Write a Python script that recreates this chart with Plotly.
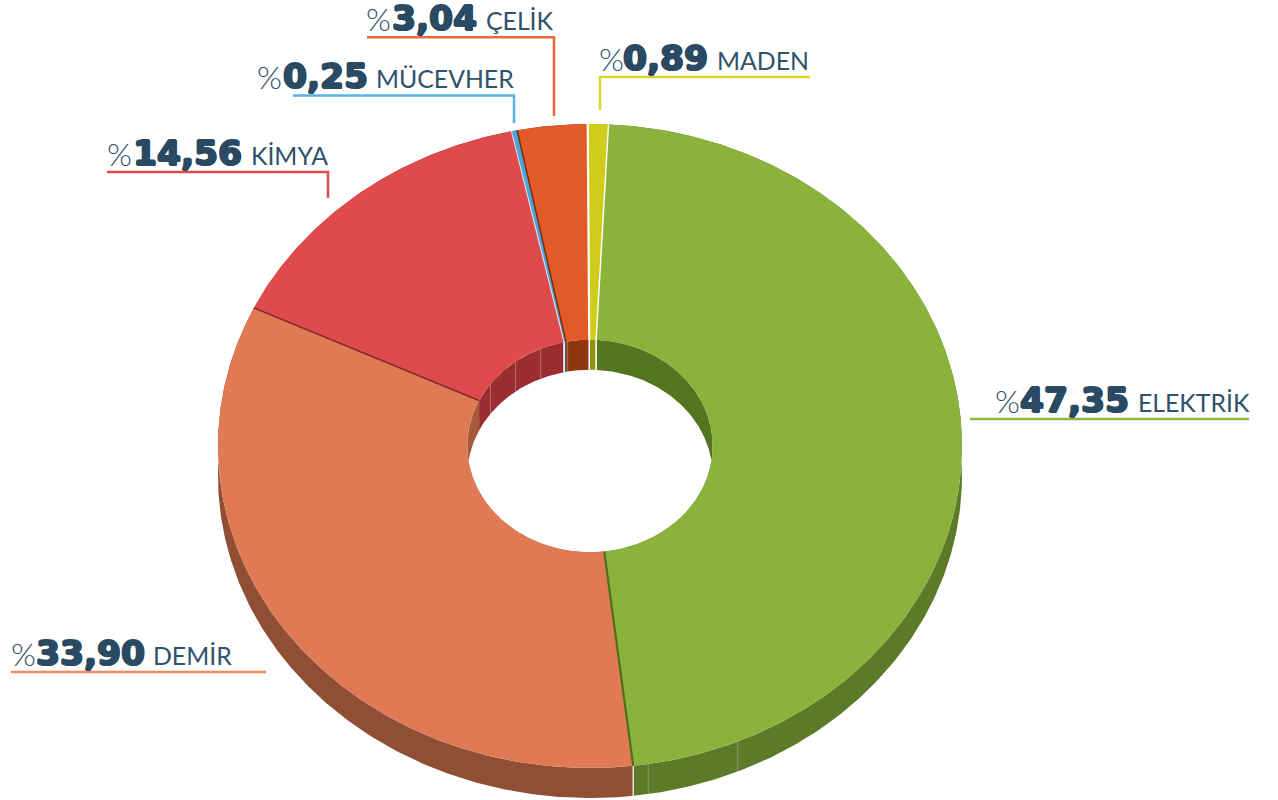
import numpy as np
import plotly.graph_objects as go

# data
names = ["MADEN", "ELEKTRİK", "DEMİR", "KİMYA", "MÜCEVHER", "ÇELİK"]
values = [0.89, 47.35, 33.90, 14.56, 0.25, 3.04]

# styles
top_colors = ["#CFCC1C", "#8BB33B", "#E07A54", "#DF4A4C", "#4CA3D8", "#E15A28"]
outer_wall_colors = ["#8F8F10", "#5C7A28", "#904F35", "#96302F", "#2A6A92", "#8F3510"]
inner_wall_colors = ["#8F8F10", "#54751F", "#A55A3C", "#9A2D30", "#2A6A92", "#8F3510"]
leader_colors = ["#D9D62E", "#8FB93E", "#F08A60", "#E0494C", "#5AB1E4", "#F0693C"]
edge_colors = ["#FFFFFF", "#FFFFFF", "#4F6F1C", "#7E2A2A", "#FFFFFF", "#7A2E0C"]
edge_widths = [2.2, 1.4, 2.2, 1.6, 0.8, 1.5]
TEXT_NUM = "#2A4A63"
TEXT_LBL = "#30526B"

# geometry (layout, in pixels of the 1278x800 page)
W, H = 1278, 800
CX, CY, RX, RY, DEPTH = 590, 446, 372, 322, 30
HOLE = 0.33
ROTATION = -0.35
outer_facets = [156.6, 171.0]
inner_facets = [305.8, 322.7, 336.3, 349.5]

# leader: (x start, y, x corner or None, y end)
leaders = [
    (810, 77, 600, 110),
    (970, 419, 1249, None),
    (11, 672, 266, None),
    (107, 172, 328, 198),
    (293, 95.5, 514, 123),
    (367, 37.3, 554, 116),
]
# text x positions: percent sign, number, name, baseline
text_pos = [
    (598, 622, 716, 70),
    (994, 1019, 1137, 412),
    (10, 35, 152, 665),
    (106, 132, 250, 165),
    (256, 282, 375, 88),
    (365, 391, 485, 30),
]

vals = np.array(values, dtype=float)
bounds = np.concatenate([[0.0], np.cumsum(vals) / vals.sum() * 360.0]) + ROTATION
d = DEPTH / RY


def arc(a0, a1, r, dy=0.0):
    n = max(2, int(abs(a1 - a0) * 2) + 2)
    t = np.radians(np.linspace(a0, a1, n))
    return r * np.sin(t), r * np.cos(t) + dy


def band(a0, a1, r0, dy0, r1, dy1):
    x0, y0 = arc(a0, a1, r0, dy0)
    x1, y1 = arc(a1, a0, r1, dy1)
    return np.r_[x0, x1, x0[0]], np.r_[y0, y1, y0[0]]


fig = go.Figure()


def poly(x, y, color):
    fig.add_trace(go.Scatter(x=x, y=y, mode="lines", fill="toself", fillcolor=color,
                             line=dict(width=0, color=color), hoverinfo="skip", showlegend=False))


def seg(x, y, color, width):
    fig.add_trace(go.Scatter(x=x, y=y, mode="lines", line=dict(width=width, color=color),
                             hoverinfo="skip", showlegend=False))


n = len(vals)
for i in range(n):
    x, y = band(bounds[i], bounds[i + 1], 1, 0, 1, -d)
    poly(x, y, outer_wall_colors[i])
for i in range(n):
    x, y = band(bounds[i], bounds[i + 1], HOLE, 0, HOLE, -d)
    poly(x, y, inner_wall_colors[i])
# facet seams on the walls
for a in outer_facets:
    t = np.radians(a)
    seg([np.sin(t)] * 2, [np.cos(t), np.cos(t) - d], "rgba(255,255,255,0.3)", 1)
for a in inner_facets:
    t = np.radians(a)
    seg([HOLE * np.sin(t)] * 2, [HOLE * np.cos(t), HOLE * np.cos(t) - d], "rgba(255,255,255,0.3)", 1)
# wall gaps at slice ends
for i in [0, 1, 4]:
    t = np.radians(bounds[i])
    seg([HOLE * np.sin(t)] * 2, [HOLE * np.cos(t), HOLE * np.cos(t) - d], "#FFFFFF", 1.6)
t = np.radians(bounds[2])
seg([np.sin(t)] * 2, [np.cos(t), np.cos(t) - d], "#FFFFFF", 1.2)

for i in range(n):
    x, y = band(bounds[i], bounds[i + 1], 1, 0, HOLE, 0)
    poly(x, y, top_colors[i])
for i in range(n):
    t = np.radians(bounds[i])
    seg([HOLE * np.sin(t), np.sin(t)], [HOLE * np.cos(t), np.cos(t)], edge_colors[i], edge_widths[i])

annotations, shapes = [], []


def label(px, base, txt, size, family, color, weight=400, shadow="none"):
    annotations.append(dict(
        x=px / W, y=1 - (base - size * 0.36) / H, xref="paper", yref="paper",
        xanchor="left", yanchor="middle", showarrow=False, text=txt, borderpad=0,
        font=dict(size=size, family=family, color=color, weight=weight, shadow=shadow)))


SH = ", ".join(f"{a}px {b}px 0 {TEXT_NUM}" for a, b in [(1, 0), (-1, 0), (0, 0.6), (0, -0.6), (0.7, 0.5), (-0.7, -0.5)])
for i in range(n):
    x0, y0, x1, y1 = leaders[i]
    path = f"M {x0/W} {1-y0/H} L {x1/W} {1-y0/H}"
    if y1 is not None:
        path += f" L {x1/W} {1-y1/H}"
    shapes.append(dict(type="path", xref="paper", yref="paper", path=path,
                       line=dict(color=leader_colors[i], width=2.5)))
    p, q, r, b = text_pos[i]
    label(p, b, "%", 32, "Lato", TEXT_LBL, 300)
    label(q, b, f"{values[i]:.2f}".replace(".", ","), 34.5, "DejaVu Sans", TEXT_NUM, 700, SH)
    label(r, b - 1, names[i], 24.8, "Lato", TEXT_LBL, 400)

fig.update_layout(
    width=W, height=H, margin=dict(l=0, r=0, t=0, b=0),
    paper_bgcolor="#FFFFFF", plot_bgcolor="#FFFFFF", showlegend=False,
    xaxis=dict(range=[-CX / RX, (W - CX) / RX], visible=False, fixedrange=True),
    yaxis=dict(range=[(CY - H) / RY, CY / RY], visible=False, fixedrange=True),
    annotations=annotations, shapes=shapes,
)
fig.write_html("out.html", config={"displayModeBar": False},
               post_script="document.body.style.margin='0';document.documentElement.style.overflow='hidden';")
